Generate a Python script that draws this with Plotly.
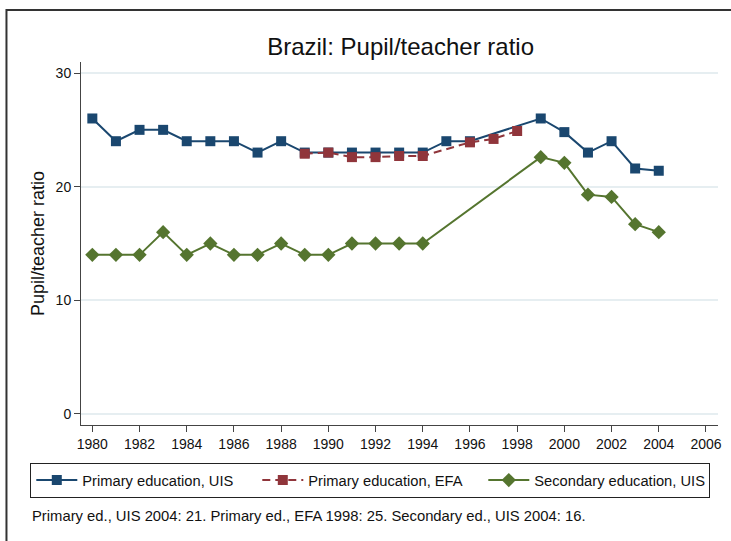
from plotly import graph_objects as go

# values
uis_years = [1980, 1981, 1982, 1983, 1984, 1985, 1986, 1987, 1988, 1989, 1990, 1991,
             1992, 1993, 1994, 1995, 1996, 1999, 2000, 2001, 2002, 2003, 2004]
uis_primary = [26, 24, 25, 25, 24, 24, 24, 23, 24, 23, 23, 23,
               23, 23, 23, 24, 24, 26, 24.8, 23, 24, 21.6, 21.4]

efa_years = [1989, 1990, 1991, 1992, 1993, 1994, 1996, 1997, 1998]
efa_primary = [22.9, 23, 22.6, 22.6, 22.7, 22.7, 23.9, 24.2, 24.9]

sec_years = [1980, 1981, 1982, 1983, 1984, 1985, 1986, 1987, 1988, 1989, 1990, 1991,
             1992, 1993, 1994, 1999, 2000, 2001, 2002, 2003, 2004]
uis_secondary = [14, 14, 14, 16, 14, 15, 14, 14, 15, 14, 14, 15,
                 15, 15, 15, 22.6, 22.1, 19.3, 19.1, 16.7, 16]

x_ticks = list(range(1980, 2007, 2))
y_ticks = [0, 10, 20, 30]

navy, maroon, green = '#1a476f', '#90353b', '#55752f'
font = "Liberation Sans, Arial, sans-serif"

fig = go.Figure()
fig.add_trace(go.Scatter(x=uis_years, y=uis_primary, mode='lines+markers',
                         name='Primary education, UIS',
                         line=dict(color=navy, width=2),
                         marker=dict(symbol='square', size=10, color=navy, line=dict(width=0))))
fig.add_trace(go.Scatter(x=efa_years, y=efa_primary, mode='lines+markers',
                         name='Primary education, EFA',
                         line=dict(color=maroon, width=2, dash='8px,5px'),
                         marker=dict(symbol='square', size=10, color=maroon, line=dict(width=0))))
fig.add_trace(go.Scatter(x=sec_years, y=uis_secondary, mode='lines+markers',
                         name='Secondary education, UIS',
                         line=dict(color=green, width=2),
                         marker=dict(symbol='diamond', size=11, color=green, line=dict(width=0))))

fig.update_xaxes(range=[1979.52, 2006.51], tickvals=x_ticks, showgrid=False, zeroline=False,
                 showline=True, linecolor='#444', linewidth=1,
                 ticks='outside', ticklen=6, tickcolor='#444', tickfont=dict(size=14, color='#111'))
fig.update_yaxes(range=[-0.97, 30.97], tickvals=y_ticks, showgrid=True, gridcolor='#e6eef1',
                 gridwidth=1.5, zeroline=False, showline=True, linecolor='#444', linewidth=1,
                 ticks='outside', ticklen=6, tickcolor='#444', tickfont=dict(size=14, color='#111'),
                 title=dict(text='Pupil/teacher ratio', font=dict(size=18, color='#111'), standoff=6))

fig.update_layout(
    width=731, height=541,
    paper_bgcolor='white', plot_bgcolor='white',
    font=dict(family=font, color='#111'),
    margin=dict(l=81, r=9, t=62, b=116),
    title=dict(text='Brazil: Pupil/teacher ratio', x=0.548, xanchor='center',
               y=0.913, yanchor='middle', font=dict(size=24, color='#111')),
    showlegend=True,
    legend=dict(orientation='h', xref='paper', yref='paper', x=-0.0796, xanchor='left',
                y=-0.1047, yanchor='top', bordercolor='#222', borderwidth=1,
                font=dict(size=14.7, color='#111'), entrywidth=170, entrywidthmode='pixels',
                itemwidth=41, bgcolor='white'),
)

fig.add_annotation(text='Primary ed., UIS 2004: 21. Primary ed., EFA 1998: 25. Secondary ed., UIS 2004: 16.',
                   xref='paper', yref='paper', x=-0.0796, y=-0.2507, xanchor='left', yanchor='middle',
                   showarrow=False, font=dict(size=14.8, color='#111'))

# outer graph border (cropped on the right and bottom in the reference)
fig.add_shape(type='rect', xref='paper', yref='paper', x0=-0.117, x1=1.2, y0=-0.5, y1=1.143,
              line=dict(color='#333', width=2), fillcolor='rgba(0,0,0,0)', layer='below')

fig.write_html("out.html", config={'displayModeBar': False},
               post_script="document.body.style.margin='0';")
